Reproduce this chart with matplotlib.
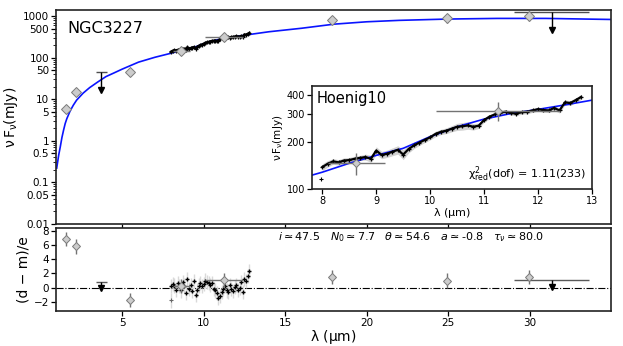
import numpy as np
import matplotlib.pyplot as plt
from matplotlib.ticker import FixedLocator, LogLocator, NullFormatter

# best-fit model SED
model_wave = [0.98, 1.1, 1.2, 1.3, 1.4, 1.5, 1.6, 1.8, 2.0, 2.2, 2.6, 3.0, 3.5, 4.0,
              4.5, 5.0, 6.0, 7.0, 8.0, 8.5, 9.0, 9.5, 10.0, 10.5, 11.0, 11.5, 12.0,
              12.5, 13.0, 14.0, 16.0, 18.0, 20.0, 22.0, 25.0, 28.0, 31.0, 35.0]
model_flux = [0.22, 0.45, 0.72, 1.2, 1.8, 2.6, 3.4, 5.2, 7.2, 9.5, 14, 19, 26, 35,
              43, 53, 78, 102, 128, 146, 164, 182, 216, 250, 280, 304, 323,
              345, 370, 420, 510, 640, 730, 790, 850, 880, 880, 830]

# N-band spectrum (Hoenig10)
spec_wave = [8.0, 8.1, 8.2, 8.3, 8.4, 8.5, 8.6, 8.7, 8.8, 8.9, 9.0, 9.1, 9.2, 9.3,
             9.4, 9.5, 9.6, 9.7, 9.8, 9.9, 10.0, 10.1, 10.2, 10.3, 10.4, 10.5, 10.6,
             10.7, 10.8, 10.9, 11.0, 11.1, 11.2, 11.3, 11.4, 11.5, 11.6, 11.7, 11.8,
             11.9, 12.0, 12.1, 12.2, 12.3, 12.4, 12.5, 12.6, 12.7, 12.8]
spec_flux = [138, 145, 150, 148, 152, 153, 156, 158, 160, 156, 176, 165, 168, 173,
             178, 166, 180, 190, 198, 206, 214, 225, 232, 236, 243, 250, 252,
             255, 250, 254, 276, 290, 300, 308, 312, 306, 304, 310, 312,
             318, 324, 320, 318, 330, 318, 358, 355, 370, 388]
spec_err = [7, 7, 6, 6, 6, 6, 6, 6, 7, 8, 10, 9, 9, 10,
            11, 12, 10, 9, 8, 8, 8, 9, 9, 10, 11, 13, 14,
            14, 12, 10, 9, 9, 9, 9, 9, 9, 9, 9, 9,
            9, 9, 10, 10, 11, 12, 13, 13, 13, 14]
spec_res = [0.2, 0.5, 0.3, -0.3, 0.6, 0.2, -0.4, 0.8, 0.3, -0.8, 1.2, -0.2, 0.4, -0.5,
            0.9, -1.0, -0.3, 0.3, 0.6, 0.2, 0.5, 1.0, 0.8, 0.6, 0.4, 0.7, -0.2,
            -0.4, -0.8, -1.5, -1.2, -0.6, -0.2, 0.3, -0.4, -0.6, 0.4, -0.2, -0.5,
            0.1, 0.4, -0.3, -0.1, 0.8, -0.6, 1.2, 0.9, 1.6, 2.3]
# stray spectral point
out_wave = [7.98]
out_flux = [116]
out_res = [-1.8]

# photometry
phot_wave = [1.55, 2.15, 5.45, 8.63, 11.25, 17.9, 24.95, 29.97]
phot_flux = [5.8, 14.7, 44.5, 146, 316, 800, 910, 1000]
phot_ferr = [0.5, 1.5, 8, 24, 45, 130, 220, 250]
phot_werr = [0, 0, 0, 0.53, 1.15, 0, 0, 0]
phot_res = [6.9, 5.8, -1.7, 0.2, 1.1, 1.5, 1.0, 1.5]

# upper limits
ul_wave = [3.7, 31.34]
ul_flux = [44.5, 1230]
ul_werr = [0.34, 2.3]
ul_res = [0.0, 0.15]
ul_res_cap = [0.8, 1.1]

params_text = (r'$i \simeq 47.5$   $N_0 \simeq 7.7$   $\theta \simeq 54.6$   '
               r'$a \simeq$-0.8   $\tau_\nu \simeq 80.0$')

ul_drop = 2.7
blue = '#0a14ff'
dia_face = '#cccccc'
dia_edge = '#7a7a7a'

fig = plt.figure(figsize=(6.23, 3.46), dpi=100)
ax = fig.add_axes([0.090, 0.353, 0.891, 0.618])
axr = fig.add_axes([0.090, 0.101, 0.891, 0.240])
axi = fig.add_axes([0.501, 0.454, 0.449, 0.297])

for a in (ax, axr, axi):
    for s in a.spines.values():
        s.set_linewidth(1.2)
        s.set_color('#222222')
    a.tick_params(direction='out', labelsize=7.5, length=3.5, width=0.9, pad=1.5)
    a.tick_params(which='minor', direction='out', length=2, width=0.6)


def draw_sed(a, ms, lw, show_out):
    a.plot(model_wave, model_flux, color=blue, lw=1.2, zorder=2)
    lo = np.array(spec_flux) - np.array(spec_err)
    hi = np.array(spec_flux) + np.array(spec_err)
    a.fill_between(spec_wave, lo, hi, color='0.82', lw=0, zorder=1)
    a.plot(spec_wave, spec_flux, color='black', lw=lw, marker='+', ms=3.5,
           mew=0.9, zorder=3)
    if show_out:
        a.plot(out_wave, out_flux, ls='none', marker='+', ms=3, mew=0.8,
               color='black', zorder=3)
    a.errorbar(phot_wave, phot_flux, yerr=phot_ferr, xerr=phot_werr, fmt='D',
               ms=ms, mfc=dia_face, mec=dia_edge, mew=0.7, ecolor='0.45',
               elinewidth=1.0, capsize=0, zorder=4)


# main SED panel
draw_sed(ax, 5, 2.0, False)
ax.errorbar(ul_wave, ul_flux, xerr=ul_werr, fmt='none', ecolor='0.3',
            elinewidth=1.0, zorder=4)
tips = np.array(ul_flux) / ul_drop
ax.vlines(ul_wave, tips, ul_flux, color='black', lw=1.0, zorder=4)
ax.plot(ul_wave, tips, ls='none', marker='v', ms=5, color='black', zorder=5)
ax.set_xlim(0.94, 35)
ax.set_yscale('log')
ax.set_ylim(0.01, 1400)
ax.set_yticks([0.01, 0.05, 0.1, 0.5, 1, 5, 10, 50, 100, 500, 1000])
ax.set_yticklabels(['0.01', '0.05', '0.1', '0.5', '1', '5', '10', '50', '100',
                    '500', '1000'])
ax.yaxis.set_minor_locator(LogLocator(base=10, subs=np.arange(2, 10)))
ax.yaxis.set_minor_formatter(NullFormatter())
ax.set_xticks([5, 10, 15, 20, 25, 30])
ax.set_xticklabels([])
ax.set_ylabel(r'$\mathregular{\nu\, F_{\nu}}$(mJy)', fontsize=10, labelpad=2)
ax.text(0.02, 0.95, 'NGC3227', transform=ax.transAxes, fontsize=11.5,
        va='top', ha='left')

# inset with spectrum
draw_sed(axi, 4.5, 1.6, True)
axi.set_xlim(7.81, 13)
axi.set_yscale('log')
axi.set_ylim(100, 455)
axi.yaxis.set_major_locator(FixedLocator([100, 200, 300, 400]))
axi.yaxis.set_minor_locator(FixedLocator([]))
axi.set_yticklabels(['100', '200', '300', '400'])
axi.set_xticks([8, 9, 10, 11, 12, 13])
axi.tick_params(labelsize=7)
axi.set_xlabel(r'$\mathregular{\lambda}$ (µm)', fontsize=8, labelpad=0)
axi.set_ylabel(r'$\mathregular{\nu\, F_{\nu}}$(mJy)', fontsize=7.5, labelpad=1)
axi.text(0.017, 0.95, 'Hoenig10', transform=axi.transAxes, fontsize=10.5,
         va='top', ha='left')
axi.text(0.98, 0.05, r'$\mathregular{\chi^2_{red}}$(dof) = 1.11(233)',
         transform=axi.transAxes, fontsize=8, va='bottom', ha='right')

# residual panel
axr.axhline(0, color='black', lw=0.8, ls='-.', zorder=1)
axr.errorbar(spec_wave, spec_res, yerr=1.0, fmt='+', ms=3.5, mew=1.0,
             color='black', ecolor='0.85', elinewidth=1.0, zorder=3)
axr.errorbar(out_wave, out_res, yerr=1.0, fmt='+', ms=3, mew=0.8,
             color='0.4', ecolor='0.85', elinewidth=1.0, zorder=3)
axr.errorbar(phot_wave, phot_res, yerr=1.0, xerr=phot_werr, fmt='D', ms=4.5,
             mfc=dia_face, mec=dia_edge, mew=0.7, ecolor='0.45',
             elinewidth=1.0, capsize=0, zorder=4)
axr.errorbar(ul_wave, ul_res_cap, xerr=ul_werr, fmt='none', ecolor='0.35',
             elinewidth=1.0, zorder=4)
axr.vlines(ul_wave, ul_res, ul_res_cap, color='black', lw=1.0, zorder=4)
axr.plot(ul_wave, ul_res, ls='none', marker='v', ms=4.5, color='black', zorder=5)
axr.set_xlim(0.94, 35)
axr.set_ylim(-3.3, 8.4)
axr.set_yticks([-2, 0, 2, 4, 6, 8])
axr.set_xticks([5, 10, 15, 20, 25, 30])
axr.set_xlabel(r'$\mathregular{\lambda}$ (µm)', fontsize=10, labelpad=0)
axr.set_ylabel('(d − m)/e', fontsize=10, labelpad=2)
axr.text(0.40, 0.89, params_text, transform=axr.transAxes, fontsize=8,
         va='center', ha='left')

fig.savefig('out.png', dpi=100)
